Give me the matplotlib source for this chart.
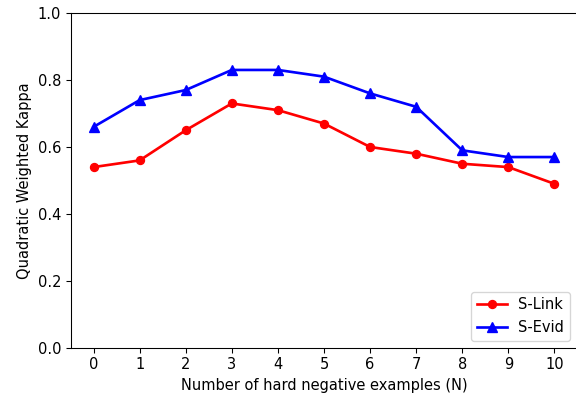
import matplotlib
matplotlib.use("Agg")
import matplotlib.pyplot as plt

n_neg = [0, 1, 2, 3, 4, 5, 6, 7, 8, 9, 10]
s_link = [0.54, 0.56, 0.65, 0.73, 0.71, 0.67, 0.60, 0.58, 0.55, 0.54, 0.49]
s_evid = [0.66, 0.74, 0.77, 0.83, 0.83, 0.81, 0.76, 0.72, 0.59, 0.57, 0.57]

plt.rcParams["font.size"] = 11

fig = plt.figure(figsize=(6, 4.125), dpi=96)
ax = fig.add_axes([70.5 / 576, 48 / 396, 507 / 576, 335 / 396])

ax.plot(n_neg, s_link, "r-o", linewidth=2, markersize=6, label="S-Link")
ax.plot(n_neg, s_evid, "b-^", linewidth=2, markersize=7, label="S-Evid")

ax.set_xlabel("Number of hard negative examples (N)")
ax.set_ylabel("Quadratic Weighted Kappa")
ax.set_xticks(n_neg)
ax.set_ylim(0.0, 1.0)
ax.legend(loc="lower right")

fig.savefig("out.png", dpi=96)
